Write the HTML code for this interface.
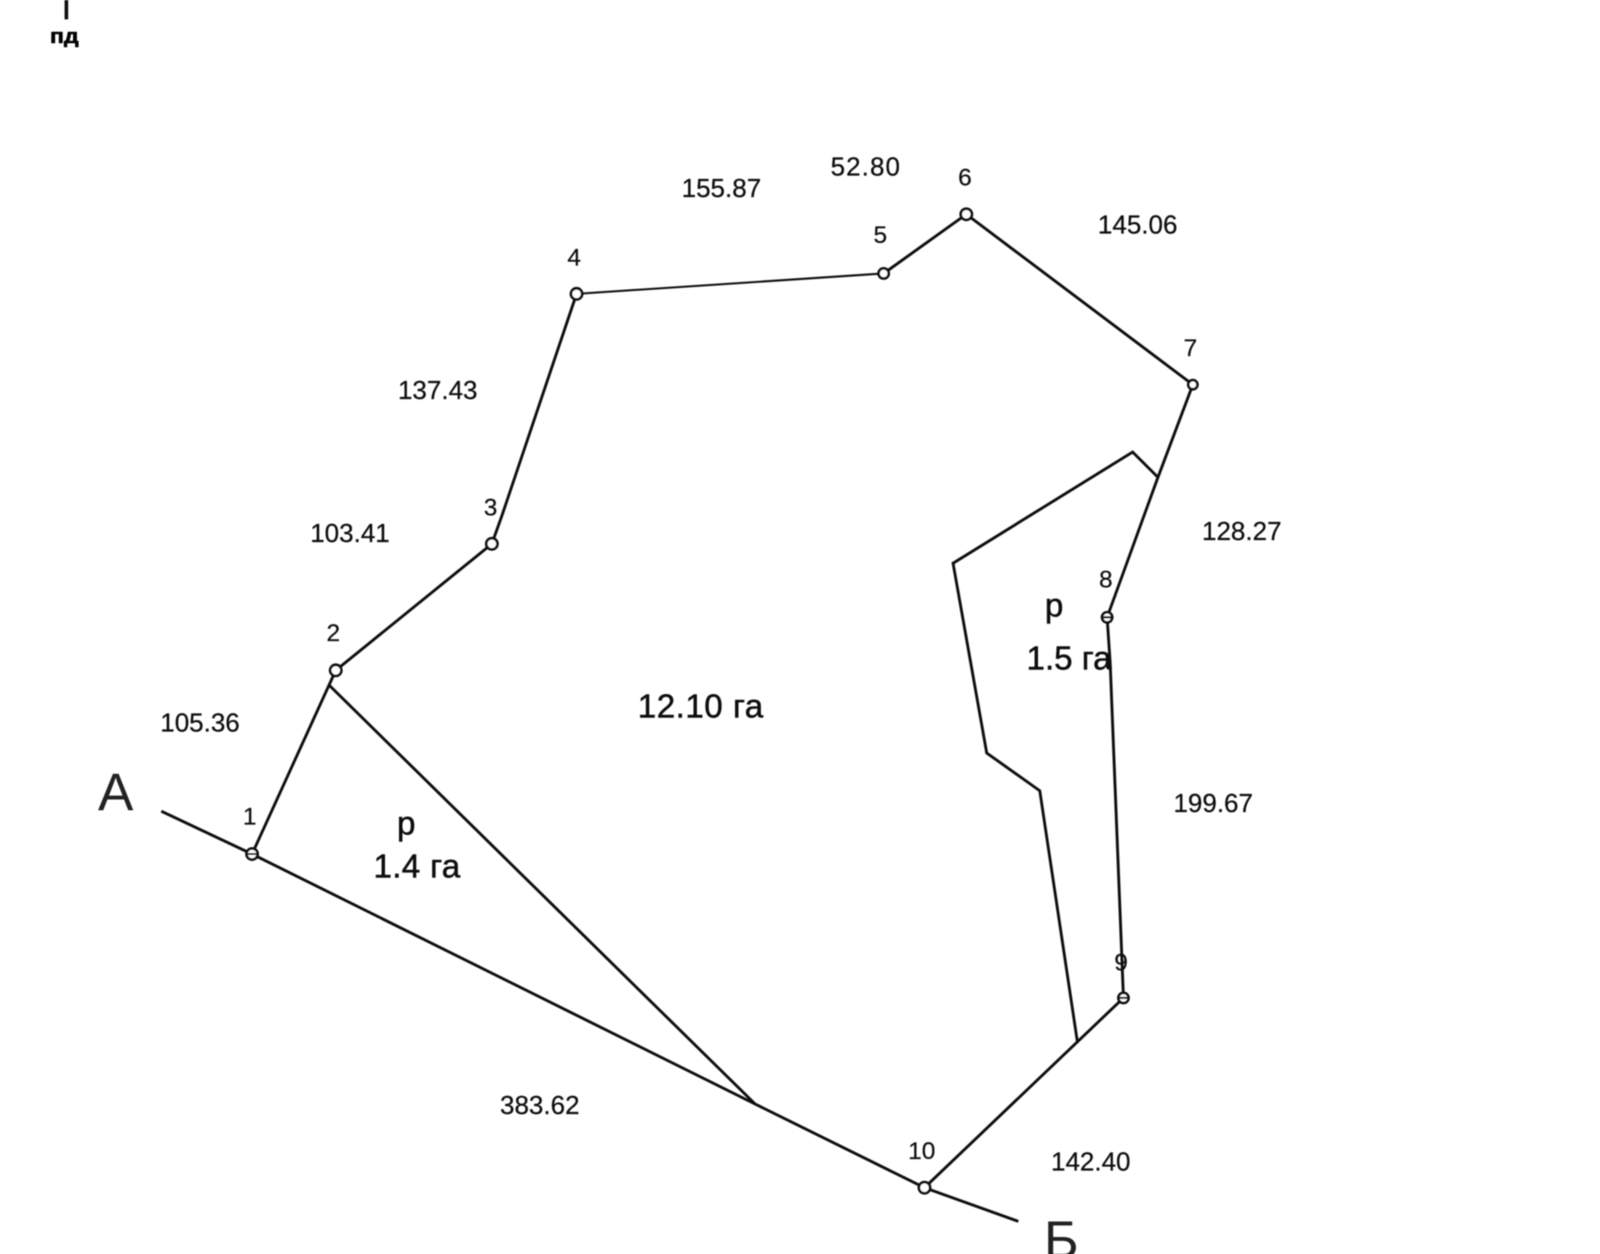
<!DOCTYPE html>
<html><head><meta charset="utf-8"><style>
html,body{margin:0;padding:0;background:#fff;width:1600px;height:1254px;overflow:hidden}
svg{display:block}
text{font-family:"Liberation Sans",sans-serif;fill:#111}
.d{font-size:25.5px;stroke:#111;stroke-width:.25}
.n{font-size:24px;stroke:#111;stroke-width:.2}
.a{font-size:32.5px;stroke:#111;stroke-width:.5}
.l{font-size:52px;fill:#222}
</style></head><body>
<svg width="1600" height="1254" viewBox="0 0 1568 1229" xmlns="http://www.w3.org/2000/svg">
<defs><filter id="b" x="-2%" y="-2%" width="104%" height="104%"><feGaussianBlur stdDeviation="0.6"/></filter></defs>
<rect width="1568" height="1229" fill="#fff"/>
<g filter="url(#b)">
<g fill="none" stroke="#111" stroke-width="2.8" stroke-linejoin="miter">
<path d="M247 837L329 657M329 657L482 533L492 505L565 288"/>
<path d="M565 288L866 268" stroke-width="2"/>
<path d="M866 268L947 210L1169 377L1134 470L1085 605L1088 650L1101 978L906 1164"/>
<path d="M158 795L247 837L740 1082L906 1164L998 1197"/>
<path d="M322 671L740 1082"/>
<path d="M1135 468L1110 443L934 552L967 738L1019 775L1056 1022"/>
</g>
<path d="M65 0V19" stroke="#111" stroke-width="3.5"/>
<text x="49" y="42" style="font-size:20px;font-weight:bold;fill:#000;stroke:#000;stroke-width:.6" textLength="28" lengthAdjust="spacingAndGlyphs">пд</text>
<g fill="#fff" stroke="#111" stroke-width="2.6">
<circle cx="247" cy="837" r="5.5"/>
<circle cx="329" cy="657" r="5.5"/>
<circle cx="482" cy="533" r="5.5"/>
<circle cx="565" cy="288" r="5.5"/>
<circle cx="866" cy="268" r="5"/>
<circle cx="947" cy="210" r="5.5"/>
<circle cx="1169" cy="377" r="4.5"/>
<circle cx="1085" cy="605" r="5"/>
<circle cx="1101" cy="978" r="5"/>
<circle cx="906" cy="1164" r="5.5"/>
</g>
<path d="M1080 605H1090M1096 978H1106M241 837H253" stroke="#111" stroke-width="2"/>
<text class="d" x="668" y="193">155.87</text>
<text class="d" x="814" y="172" textLength="68">52.80</text>
<text class="d" x="1076" y="229">145.06</text>
<text class="d" x="390" y="391">137.43</text>
<text class="d" x="304" y="531">103.41</text>
<text class="d" x="1178" y="529">128.27</text>
<text class="d" x="157" y="717">105.36</text>
<text class="d" x="1150" y="796">199.67</text>
<text class="d" x="490" y="1092">383.62</text>
<text class="d" x="1030" y="1147">142.40</text>
<text class="n" x="238" y="808">1</text>
<text class="n" x="320" y="628">2</text>
<text class="n" x="474" y="505">3</text>
<text class="n" x="556" y="260">4</text>
<text class="n" x="856" y="238">5</text>
<text class="n" x="939" y="182">6</text>
<text class="n" x="1160" y="349">7</text>
<text class="n" x="1077" y="576">8</text>
<text class="n" x="1092" y="951">9</text>
<text class="n" x="890" y="1136">10</text>
<text class="a" x="625" y="703" textLength="123">12.10 га</text>
<text class="a" x="389" y="818">р</text>
<text class="a" x="366" y="860" textLength="85">1.4 га</text>
<text class="a" x="1024" y="604">р</text>
<text class="a" x="1006" y="656">1.5 га</text>
<text class="l" x="96" y="794">А</text>
<text class="l" x="1023" y="1233">Б</text>
</g>
</svg>
</body></html>
